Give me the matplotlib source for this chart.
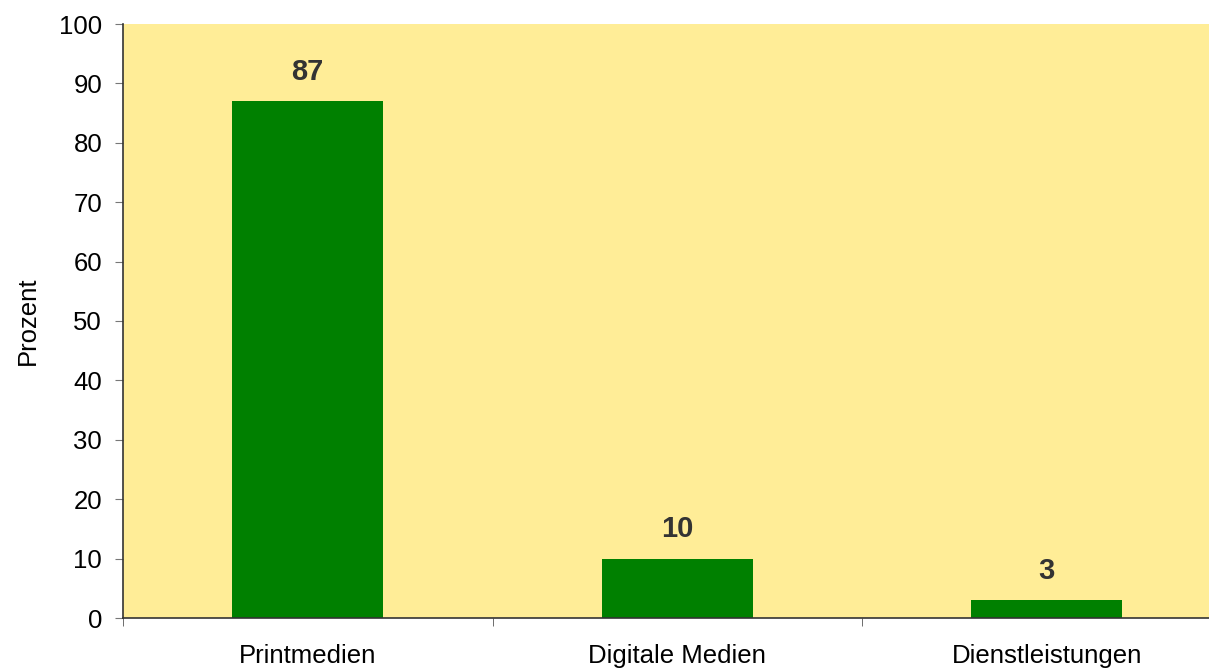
import matplotlib

matplotlib.use("Agg")
import matplotlib.pyplot as plt
import numpy as np

plt.rcParams["font.family"] = ["Liberation Sans", "DejaVu Sans"]

categories = ["Printmedien", "Digitale Medien", "Dienstleistungen"]
values = [87, 10, 3]

fig = plt.figure(figsize=(12.09, 6.69), dpi=100)
ax = fig.add_axes([123 / 1209, 51 / 669, 1108.5 / 1209, 594 / 669])
ax.set_facecolor("#FFED97")

x = np.arange(len(categories))
bars = ax.bar(x, values, width=0.41, color="#008000", zorder=2)
for rect, v in zip(bars, values):
    ax.annotate(str(v), (rect.get_x() + rect.get_width() / 2, v),
                xytext=(0, 15.5), textcoords="offset points",
                ha="center", va="baseline", fontsize=21, fontweight="bold", color="#333333")

ax.set_xlim(-0.5, len(categories) - 0.5)
ax.set_ylim(0, 100)
ax.set_yticks(np.arange(0, 101, 10))
ax.set_xticks(x, categories)
ax.set_xticks(np.arange(len(categories) + 1) - 0.5, minor=True)
ax.tick_params(axis="x", which="major", length=0, pad=19, labelsize=18.5)
ax.tick_params(axis="x", which="minor", length=6, color="#555555", direction="out")
ax.tick_params(axis="y", length=6, color="#777777", labelsize=18.5, pad=9)
ax.set_ylabel("Prozent", fontsize=18.5, labelpad=14)

for side in ("top", "right"):
    ax.spines[side].set_visible(False)
for side in ("left", "bottom"):
    ax.spines[side].set_color("#333333")
    ax.spines[side].set_linewidth(1.2)

fig.savefig("out.png", dpi=100)
